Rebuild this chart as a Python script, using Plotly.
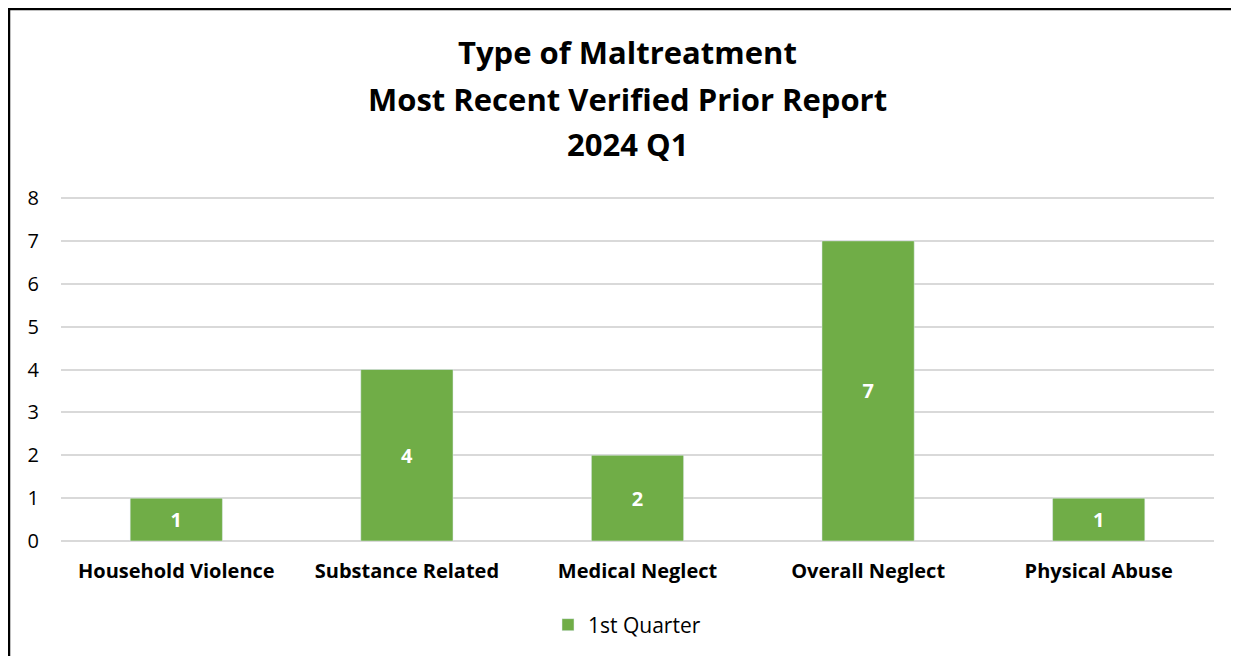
import plotly.graph_objects as go

categories = ["Household Violence", "Substance Related", "Medical Neglect", "Overall Neglect", "Physical Abuse"]
values = [1, 4, 2, 7, 1]
series_name = "1st Quarter"
title_lines = ["Type of Maltreatment", "Most Recent Verified Prior Report", "2024 Q1"]

W, H = 1239, 656
S = 7  # page offset of the figure inside the browser window
ml, mr, mt, mb = 60 - S, 33, 194 - S, 123
pw, ph = W - ml - mr, H - mt - mb

def px_x(x):
    return (x - S - ml) / pw

def px_y(y):
    return (H - mb - (y - S)) / ph

title_y = [51, 98, 143]

annotations = [
    dict(text=t, x=px_x(626), y=px_y(yy), xref="paper", yref="paper",
         xanchor="center", yanchor="middle", showarrow=False,
         font=dict(size=31, family="Open Sans", color="black", weight="bold"))
    for t, yy in zip(title_lines, title_y)
]

fig = go.Figure()
fig.add_trace(go.Bar(
    x=categories, y=values, name=series_name,
    marker=dict(color="#70AD47"),
    text=values, textposition="inside", insidetextanchor="middle",
    textfont=dict(color="white", size=20, family="Open Sans", weight="bold"),
    showlegend=True,
))

fig.update_layout(
    width=W, height=H,
    margin=dict(l=ml, r=mr, t=mt, b=mb),
    paper_bgcolor="white", plot_bgcolor="white",
    bargap=0.6,
    font=dict(family="Open Sans", color="black"),
    annotations=annotations,
    yaxis=dict(
        range=[0, 8.07], tickvals=list(range(0, 9)), showgrid=True, gridcolor="#D9D9D9", gridwidth=1.5,
        zeroline=True, zerolinecolor="#D9D9D9", zerolinewidth=1.5,
        tickfont=dict(size=20, color="black"), ticks="", showline=False,
        ticklabelstandoff=21,
    ),
    xaxis=dict(
        showline=False, ticks="",
        tickfont=dict(size=20, color="black", weight="bold"),
        ticklabelstandoff=16,
    ),
    legend=dict(
        orientation="h", x=px_x(626), xanchor="center", xref="paper",
        y=px_y(624), yanchor="middle",
        font=dict(size=21, color="black"),
    ),
    shapes=[dict(
        type="rect", xref="paper", yref="paper",
        x0=px_x(8), x1=px_x(W + 30), y0=px_y(H + 30), y1=px_y(8),
        line=dict(color="black", width=2.5), fillcolor="rgba(0,0,0,0)", layer="above",
    )],
)

fig.write_html("out.html")
